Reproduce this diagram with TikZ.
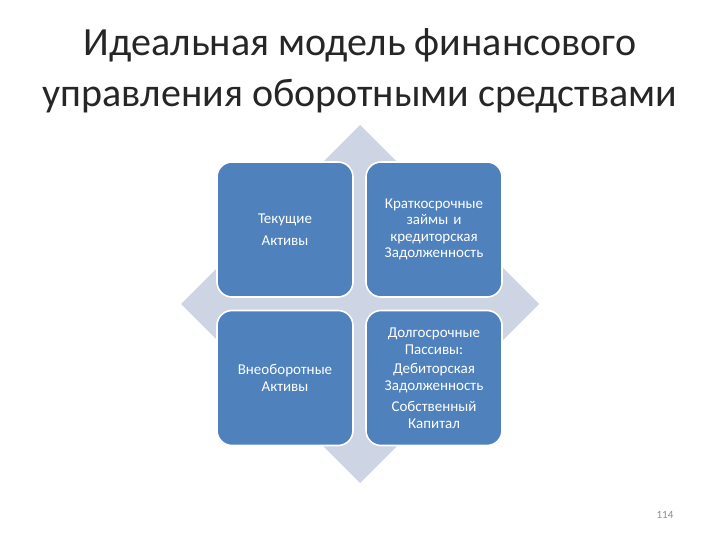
\documentclass[tikz,border=0pt]{standalone}
\usepackage{fontspec}
\setmainfont{Carlito}
\usetikzlibrary{calc}
\definecolor{boxblue}{RGB}{79,129,189}
\definecolor{arrowgray}{RGB}{205,212,228}
\definecolor{pagegray}{RGB}{140,140,140}
\tikzset{
	quadbox/.style={draw=white, line width=1.6pt, fill=boxblue, rounded corners=15pt,
		minimum width=136pt, minimum height=135pt, text width=130pt, align=center,
		text=white, font=\fontsize{15}{16.5}\selectfont, inner sep=0pt},
	titletext/.style={align=center, font=\fontsize{40}{51}\selectfont, text=black!85}
}

\begin{document}
\begin{tikzpicture}[x=1pt, y=-1pt]
			%%%%% START %%%%%
			\useasboundingbox[fill=white] (0, 0) rectangle (720, 540);
			
			\node[titletext] (title) at (360, 71) {Идеальная модель финансового\\управления оборотными средствами};
			
			\draw[fill=arrowgray, draw=none] (360, 125) -- (539, 304) -- (360, 483) -- (181, 304) -- cycle;
			
			\node[quadbox] (assets) at (285, 229.5) {Текущие\\[5pt]Активы};
			\node[quadbox] (loans) at (434, 229.5) {Краткосрочные\\займы и\\кредиторская\\Задолженность};
			\node[quadbox] (fixed) at (285, 378) {Внеоборотные\\Активы};
			\node[quadbox] (liabs) at (434, 378) {Долгосрочные\\Пассивы:\\[3pt]Дебиторская\\Задолженность\\[5pt]Собственный\\Капитал};
			
			\node[text=pagegray, font=\fontsize{11}{13}\selectfont] (page) at (665, 515) {114};
			
			%%%%% END %%%%%
		\end{tikzpicture}
\end{document}
